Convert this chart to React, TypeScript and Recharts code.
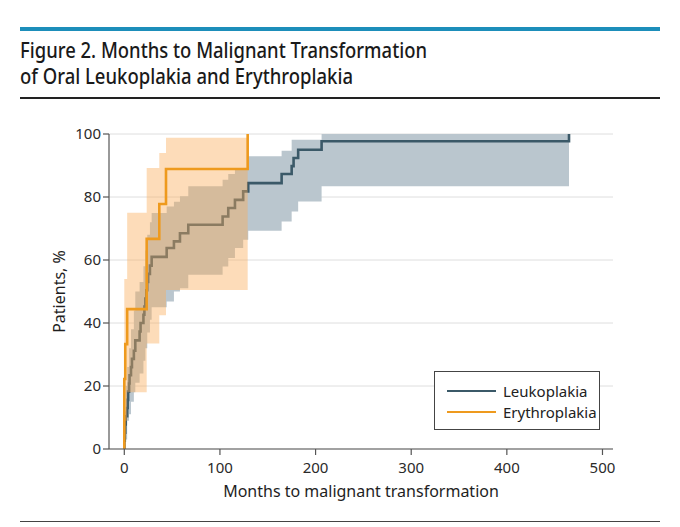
import React from 'react';
import { ComposedChart, Line, Area, XAxis, YAxis, CartesianGrid, Label } from 'recharts';

// ---------- data ----------
const xTicks = [0, 100, 200, 300, 400, 500];
const yTicks = [0, 20, 40, 60, 80, 100];

const seriesNames = ['Leukoplakia', 'Erythroplakia'];

// Leukoplakia Kaplan-Meier style cumulative curve (months, %)
const leukoplakiaTimes = [0, 0, 0.5, 1, 1.5, 3, 3.5, 4, 5, 5.5, 7, 8, 10, 11.5, 16, 17, 20, 21, 22, 23, 24, 25, 26.8, 28.6, 44.3, 51.9, 58.2, 66.9, 102.8, 108.7, 115.7, 124.3, 129.6, 164.5, 175, 177, 181.8, 206.3, 465];
const leukoplakiaPercent = [0, 2.6, 5.2, 7.8, 10.4, 13, 15.6, 18.2, 20.8, 23.4, 26, 28.6, 31.2, 34.5, 37.3, 40, 42.6, 45.2, 47.8, 50.4, 53, 55.6, 58.2, 61, 63.8, 65.9, 68.5, 71.2, 73.8, 76.5, 79.1, 81.8, 84.4, 87.3, 89.8, 92.4, 95, 97.7, 100];

// Leukoplakia confidence band
const leukoplakiaBandTimes = [0, 1.5, 3, 5, 7, 10, 11.5, 16, 20, 22, 24, 26.8, 28.6, 44.3, 51.9, 58.2, 66.9, 102.8, 108.7, 115.7, 124.3, 129.6, 164.5, 175, 181.8, 206.3, 465];
const leukoplakiaBandLower = [0, 3, 9, 11, 15, 18, 21, 24, 28, 32, 37, 41, 45, 46.8, 50, 51, 55.3, 57.9, 60.6, 63.8, 66.4, 69.3, 72.2, 75.4, 78.6, 83.4, 83.4];
const leukoplakiaBandUpper = [12, 20, 26, 32, 38, 44, 50, 53, 58, 63, 68, 72, 74.9, 77, 78.5, 80.2, 83.4, 85.5, 87.3, 89.2, 89.2, 92.9, 94.7, 98.2, 98.2, 100, 100];

// Erythroplakia curve (months, %)
const erythroplakiaTimes = [0, 0, 0, 1, 3, 23.4, 23.4, 36.6, 43.6, 129];
const erythroplakiaPercent = [0, 11.1, 22.2, 33.3, 44.4, 55.6, 66.7, 77.8, 88.9, 100];

// Erythroplakia confidence band
const erythroplakiaBandTimes = [0, 1, 3, 23.4, 36.6, 43.6, 129];
const erythroplakiaBandLower = [4, 9, 18, 33.5, 42.5, 50.5, 50.5];
const erythroplakiaBandUpper = [54, 54, 75, 89.2, 94, 98.8, 98.8];

// ---------- tables for the library ----------
const leukoLine = leukoplakiaTimes.map((t, i) => ({ t, v: leukoplakiaPercent[i] }));
const leukoBand = leukoplakiaBandTimes.map((t, i) => ({ t, band: [leukoplakiaBandLower[i], leukoplakiaBandUpper[i]] }));
const eryLine = erythroplakiaTimes.map((t, i) => ({ t, v: erythroplakiaPercent[i] }));
const eryBand = erythroplakiaBandTimes.map((t, i) => ({ t, band: [erythroplakiaBandLower[i], erythroplakiaBandUpper[i]] }));

const LEUKO_COLOR = '#3B5968';
const ERY_COLOR = '#EE9A1E';
const FONT = "'Noto Sans', 'Open Sans', sans-serif";
const TITLE_FONT = "'Noto Sans', 'Open Sans', sans-serif";

export default function App() {
  return (
    <div style={{ position: 'absolute', left: 0, top: 0, width: 680, height: 527, background: '#fff', overflow: 'hidden' }}>
      <ComposedChart
        width={680}
        height={527}
        margin={{ top: 134, right: 67, bottom: 28, left: 49 }}
        style={{ position: 'absolute', left: 0, top: 0 }}
      >
        <CartesianGrid horizontal vertical={false} stroke="#dedede" strokeWidth={1} />
        <XAxis
          dataKey="t"
          type="number"
          domain={[-16, 511]}
          allowDataOverflow
          ticks={xTicks}
          height={50}
          tickSize={6}
          tickMargin={7}
          axisLine={{ stroke: '#555', strokeWidth: 1.2 }}
          tickLine={{ stroke: '#555', strokeWidth: 1.2 }}
          tick={{ fill: '#2a2a2a', fontSize: 15, fontFamily: FONT }}
        >
          <Label value="Months to malignant transformation" position="insideBottom" offset={2} style={{ fill: '#1e1e1e', fontSize: 16, fontFamily: FONT }} />
        </XAxis>
        <YAxis
          type="number"
          domain={[0, 100]}
          ticks={yTicks}
          width={60}
          tickSize={6}
          tickMargin={2}
          axisLine={{ stroke: '#555', strokeWidth: 1.2 }}
          tickLine={{ stroke: '#555', strokeWidth: 1.2 }}
          tick={{ fill: '#2a2a2a', fontSize: 15, fontFamily: FONT }}
        >
          <Label value="Patients, %" angle={-90} position="insideLeft" offset={10} style={{ textAnchor: 'middle', fill: '#1e1e1e', fontSize: 16, fontFamily: FONT }} />
        </YAxis>
        <Area
          data={leukoBand}
          dataKey="band"
          type="stepAfter"
          stroke="none"
          fill="#BAC6CE"
          fillOpacity={1}
          isAnimationActive={false}
          activeDot={false}
          zIndex={100}
        />
        <Line
          data={leukoLine}
          dataKey="v"
          type="stepAfter"
          stroke={LEUKO_COLOR}
          strokeWidth={2.6}
          dot={false}
          activeDot={false}
          isAnimationActive={false}
          zIndex={110}
        />
        <Area
          data={eryBand}
          dataKey="band"
          type="stepAfter"
          stroke="none"
          fill="#FAAC58"
          fillOpacity={0.42}
          isAnimationActive={false}
          activeDot={false}
          zIndex={120}
        />
        <Line
          data={eryLine}
          dataKey="v"
          type="stepAfter"
          stroke={ERY_COLOR}
          strokeWidth={2.6}
          dot={false}
          activeDot={false}
          isAnimationActive={false}
          zIndex={130}
        />
      </ComposedChart>

      {/* header */}
      <div style={{ position: 'absolute', left: 20, top: 27, width: 640, height: 4, background: '#1D8EBA' }} />
      <svg width={680} height={110} style={{ position: 'absolute', left: 0, top: 0 }}>
        <text x={20} y={58} fontFamily={TITLE_FONT} fontSize={21} fontWeight={500} fill="#1a1a1a" textLength={407} lengthAdjust="spacingAndGlyphs">
          Figure 2. Months to Malignant Transformation
        </text>
        <text x={20} y={84} fontFamily={TITLE_FONT} fontSize={21} fontWeight={500} fill="#1a1a1a" textLength={333} lengthAdjust="spacingAndGlyphs">
          of Oral Leukoplakia and Erythroplakia
        </text>
      </svg>
      <div style={{ position: 'absolute', left: 20, top: 97, width: 640, height: 1.5, background: '#222' }} />
      <div style={{ position: 'absolute', left: 20, top: 521, width: 640, height: 1, background: '#444' }} />

      {/* legend */}
      <div
        style={{
          position: 'absolute', left: 434, top: 371, width: 164, height: 57,
          border: '1px solid #444', background: '#fff', fontFamily: FONT, fontSize: 15, color: '#222',
          boxSizing: 'content-box',
        }}
      >
        {seriesNames.map((name, i) => (
          <div key={name} style={{ position: 'absolute', left: 12, top: i === 0 ? 9 : 30, height: 20, display: 'flex', alignItems: 'center' }}>
            <div style={{ width: 49, height: 2.6, background: i === 0 ? LEUKO_COLOR : ERY_COLOR }} />
            <span style={{ marginLeft: 7, lineHeight: '20px' }}>{name}</span>
          </div>
        ))}
      </div>
    </div>
  );
}
